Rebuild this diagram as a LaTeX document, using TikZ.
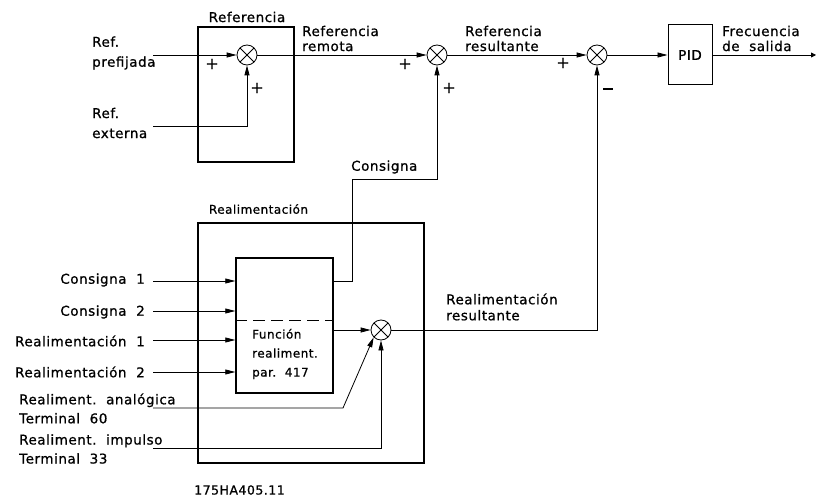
\documentclass[tikz,border=0pt]{standalone}
\usepackage{fontspec}
\setmainfont{DejaVu Sans}[LetterSpace=4,FakeBold=0.8]
\usetikzlibrary{arrows.meta}
\begin{document}
\begin{tikzpicture}[x=1pt,y=-1pt,
  box/.style={draw,line width=1.6pt,inner sep=0pt},
  fnbox/.style={draw,line width=1.4pt,inner sep=0pt},
  pidbox/.style={draw,line width=1pt,inner sep=0pt},
  thinl/.style={line width=0.8pt},
  arr/.style={thinl,-{Triangle[length=10pt,width=5pt]}},
  endarr/.style={thinl,-{Triangle[length=5pt,width=5pt]}},
  sumj/.style={draw,thinl,circle,minimum size=20pt,inner sep=0pt,
    path picture={\draw[thinl] (path picture bounding box.north west)--(path picture bounding box.south east)
      (path picture bounding box.north east)--(path picture bounding box.south west);}},
  lbl/.style={font=\fontsize{13.5}{15}\selectfont,inner sep=0pt,align=left},
  lbltwo/.style={font=\fontsize{13.5}{20}\selectfont,inner sep=0pt,align=left},
  lblmid/.style={font=\fontsize{13.5}{16}\selectfont,inner sep=0pt,align=left},
  lblterm/.style={font=\fontsize{13.5}{19}\selectfont,inner sep=0pt,align=left},
  sml/.style={font=\fontsize{12}{19}\selectfont,inner sep=0pt,align=left},
  sgn/.style={font=\fontsize{16}{16}\selectfont,inner sep=0pt}
]
\useasboundingbox (0,0) rectangle (817,500);

% ---------- Referencia block ----------
\node[box,minimum width=96pt,minimum height=135pt] (refbox) at (246,94.5) {};
\node[lbl] (reftitle) at (247,17) {Referencia};
\node[sumj] (s1) at (247,55) {};
\node[sumj] (s2) at (437,55) {};
\node[sumj] (s3) at (597,55) {};
\node[pidbox,minimum width=44pt,minimum height=60pt,font=\fontsize{13.5}{15}\selectfont] (pid) at (690,55) {PID};
\coordinate (out) at (816,55);
\coordinate (pre) at (153,55);
\coordinate (ext) at (153,126);

\draw[arr] (pre) -- (s1);
\draw[arr] (ext) -| (s1);
\draw[arr] (s1) -- (s2);
\draw[arr] (s2) -- (s3);
\draw[arr] (s3) -- (pid);
\draw[endarr] (pid) -- (out);

\node[lbltwo,anchor=west] (lpre) at (92,53) {Ref.\\prefijada};
\node[lbltwo,anchor=west] (lext) at (92,123) {Ref.\\externa};
\node[lbl,anchor=west] (lrem) at (302,38.5) {Referencia\\remota};
\node[lbl,anchor=west] (lres) at (465,38.5) {Referencia\\resultante};
\node[lbl,anchor=west] (lfre) at (722,38.5) {Frecuencia\\de\ \ salida};

\node[sgn] (p1) at (212,64) {+};
\node[sgn] (p2) at (257,88) {+};
\node[sgn] (p3) at (405,64) {+};
\node[sgn] (p4) at (449,88) {+};
\node[sgn] (p5) at (563,63) {+};
\node[inner sep=0pt] (m1) at (608,89) {\rule{10pt}{1.4pt}};

% ---------- Realimentacion block ----------
\node[box,minimum width=226pt,minimum height=240pt] (fbbox) at (311,343) {};
\node[sml] (fbtitle) at (258.5,209) {Realimentación};
\node[fnbox,minimum width=97pt,minimum height=135pt] (fn) at (284.5,325.5) {};
\node[sumj] (s4) at (381,330) {};

\coordinate (c1) at (153,281);
\coordinate (c2) at (153,311);
\coordinate (r1) at (153,340);
\coordinate (r2) at (153,372);
\coordinate (an) at (153,408);
\coordinate (anb) at (343,408);
\coordinate (im) at (153,448);
\coordinate (k1) at (352,179);

\draw[arr] (c1) -- (c1 -| fn.west);
\draw[arr] (c2) -- (c2 -| fn.west);
\draw[arr] (r1) -- (r1 -| fn.west);
\draw[arr] (r2) -- (r2 -| fn.west);
\draw[thinl,dash pattern=on 12pt off 6pt] (fn.west |- 0,320) -- (fn.east |- 0,320);
\draw[arr] (fn.east |- s4) -- (s4);
\draw[arr] (an) -- (anb) -- (s4.225);
\draw[arr] (im) -| (s4);
\draw[arr] (fn.east |- c1) -| (k1) -| (s2);
\draw[arr] (s4) -| (s3);

\node[lbl,anchor=east] (lc1) at (145,280) {Consigna\ \ 1};
\node[lbl,anchor=east] (lc2) at (145,312) {Consigna\ \ 2};
\node[lbl,anchor=east] (lr1) at (145,341) {Realimentación\ \ 1};
\node[lbl,anchor=east] (lr2) at (145,372) {Realimentación\ \ 2};
\node[lblterm,anchor=west] (lan) at (19,408.5) {Realiment.\ \ analógica\\Terminal\ \ 60};
\node[lblterm,anchor=west] (lim) at (19,449) {Realiment.\ \ impulso\\Terminal\ \ 33};
\node[sml,anchor=west] (lfn) at (252,354) {Función\\realiment.\\par.\ \ 417};
\node[lbl,anchor=west] (lcons) at (351,167) {Consigna};
\node[lblmid,anchor=west] (lfbres) at (446,307) {Realimentación\\resultante};
\node[sml,font=\fontsize{12.5}{15}\selectfont] (code) at (239.5,490) {175HA405.11};
\end{tikzpicture}
\end{document}
